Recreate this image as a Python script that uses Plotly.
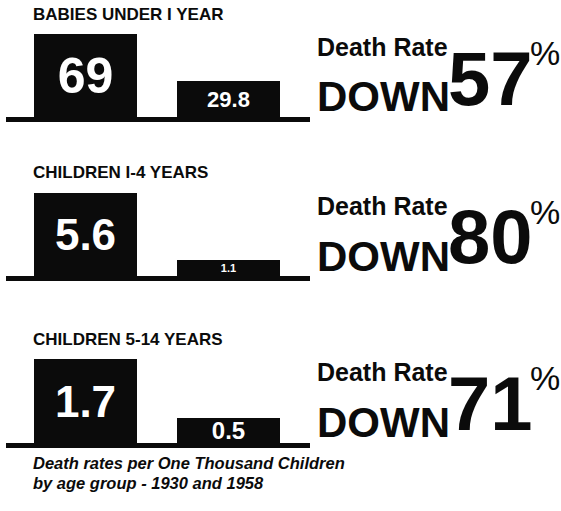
import plotly.graph_objects as go

# ---- data ----
years = ["1930", "1958"]
groups = ["BABIES UNDER I YEAR", "CHILDREN I-4 YEARS", "CHILDREN 5-14 YEARS"]
rates_1930 = [69, 5.6, 1.7]
rates_1958 = [29.8, 1.1, 0.5]
rate_labels = [["69", "29.8"], ["5.6", "1.1"], ["1.7", "0.5"]]
drop_pct = ["57", "80", "71"]
caption = ["Death rates per One Thousand Children", "by age group - 1930 and 1958"]

W, H = 561, 511
FONT = "Liberation Sans, Arial, sans-serif"

def px(x):
    return x / W

def py(y):
    return 1 - y / H

# panel geometry in pixels: (bar top, baseline)
panels = [(34, 117), (193, 276), (359, 443)]
label_sizes = [[50, 22], [44, 11], [44, 24]]

fig = go.Figure()
annotations = []
for i, (top, base) in enumerate(panels):
    n = "" if i == 0 else str(i + 1)
    vals = [rates_1930[i], rates_1958[i]]
    fig.add_trace(go.Bar(
        x=years, y=vals,
        xaxis="x" + n, yaxis="y" + n,
        marker=dict(color="#0b0b0b", line=dict(width=0)),
        width=0.725,
        text=rate_labels[i],
        textposition="inside",
        insidetextanchor="middle",
        textangle=0,
        constraintext="none",
        textfont=dict(color="white", family=FONT, size=label_sizes[i], weight="bold"),
        showlegend=False,
        hoverinfo="skip",
    ))
    fig.layout["xaxis" + n] = dict(
        domain=[px(6), px(310)], anchor="y" + n,
        type="category", range=[-0.56, 1.574],
        showticklabels=False, ticks="", showgrid=False, zeroline=False,
        showline=True, linecolor="#0b0b0b", linewidth=5, fixedrange=True,
    )
    fig.layout["yaxis" + n] = dict(
        domain=[py(base), py(top)], anchor="x" + n,
        range=[0, rates_1930[i]],
        visible=False, showgrid=False, zeroline=False, fixedrange=True,
    )
    # group title
    annotations.append(dict(
        x=px(31), y=py(top - 20), xref="paper", yref="paper",
        xanchor="left", yanchor="middle", showarrow=False,
        text="<b>" + groups[i] + "</b>",
        font=dict(family=FONT, size=17, color="#0b0b0b"),
    ))
    # Death Rate / DOWN / NN %
    annotations.append(dict(
        x=px(315), y=py(top + 13), xref="paper", yref="paper",
        xanchor="left", yanchor="middle", showarrow=False,
        text="<b>Death Rate</b>",
        font=dict(family=FONT, size=25, color="#0b0b0b"),
    ))
    annotations.append(dict(
        x=px(315), y=py(top + 63), xref="paper", yref="paper",
        xanchor="left", yanchor="middle", showarrow=False,
        text="<b>DOWN</b>",
        font=dict(family=FONT, size=42, color="#0b0b0b"),
    ))
    annotations.append(dict(
        x=px(446), y=py(top + 44), xref="paper", yref="paper",
        xanchor="left", yanchor="middle", showarrow=False,
        text="<b>" + drop_pct[i] + "</b>",
        font=dict(family=FONT, size=76, color="#0b0b0b"),
    ))
    annotations.append(dict(
        x=px(528), y=py(top + 19), xref="paper", yref="paper",
        xanchor="left", yanchor="middle", showarrow=False,
        text="%",
        font=dict(family=FONT, size=34, color="#0b0b0b"),
    ))

for j, line in enumerate(caption):
    annotations.append(dict(
        x=px(31), y=py(463 + j * 20), xref="paper", yref="paper",
        xanchor="left", yanchor="middle", showarrow=False,
        text="<b><i>" + line + "</i></b>",
        font=dict(family=FONT, size=16.5, color="#0b0b0b"),
    ))

fig.update_layout(
    width=W, height=H,
    margin=dict(l=0, r=0, t=0, b=0),
    paper_bgcolor="white", plot_bgcolor="white",
    bargap=0,
    annotations=annotations,
)

fig.write_html(
    "out.html",
    config={"displayModeBar": False},
    post_script="document.body.style.margin='0';",
)
